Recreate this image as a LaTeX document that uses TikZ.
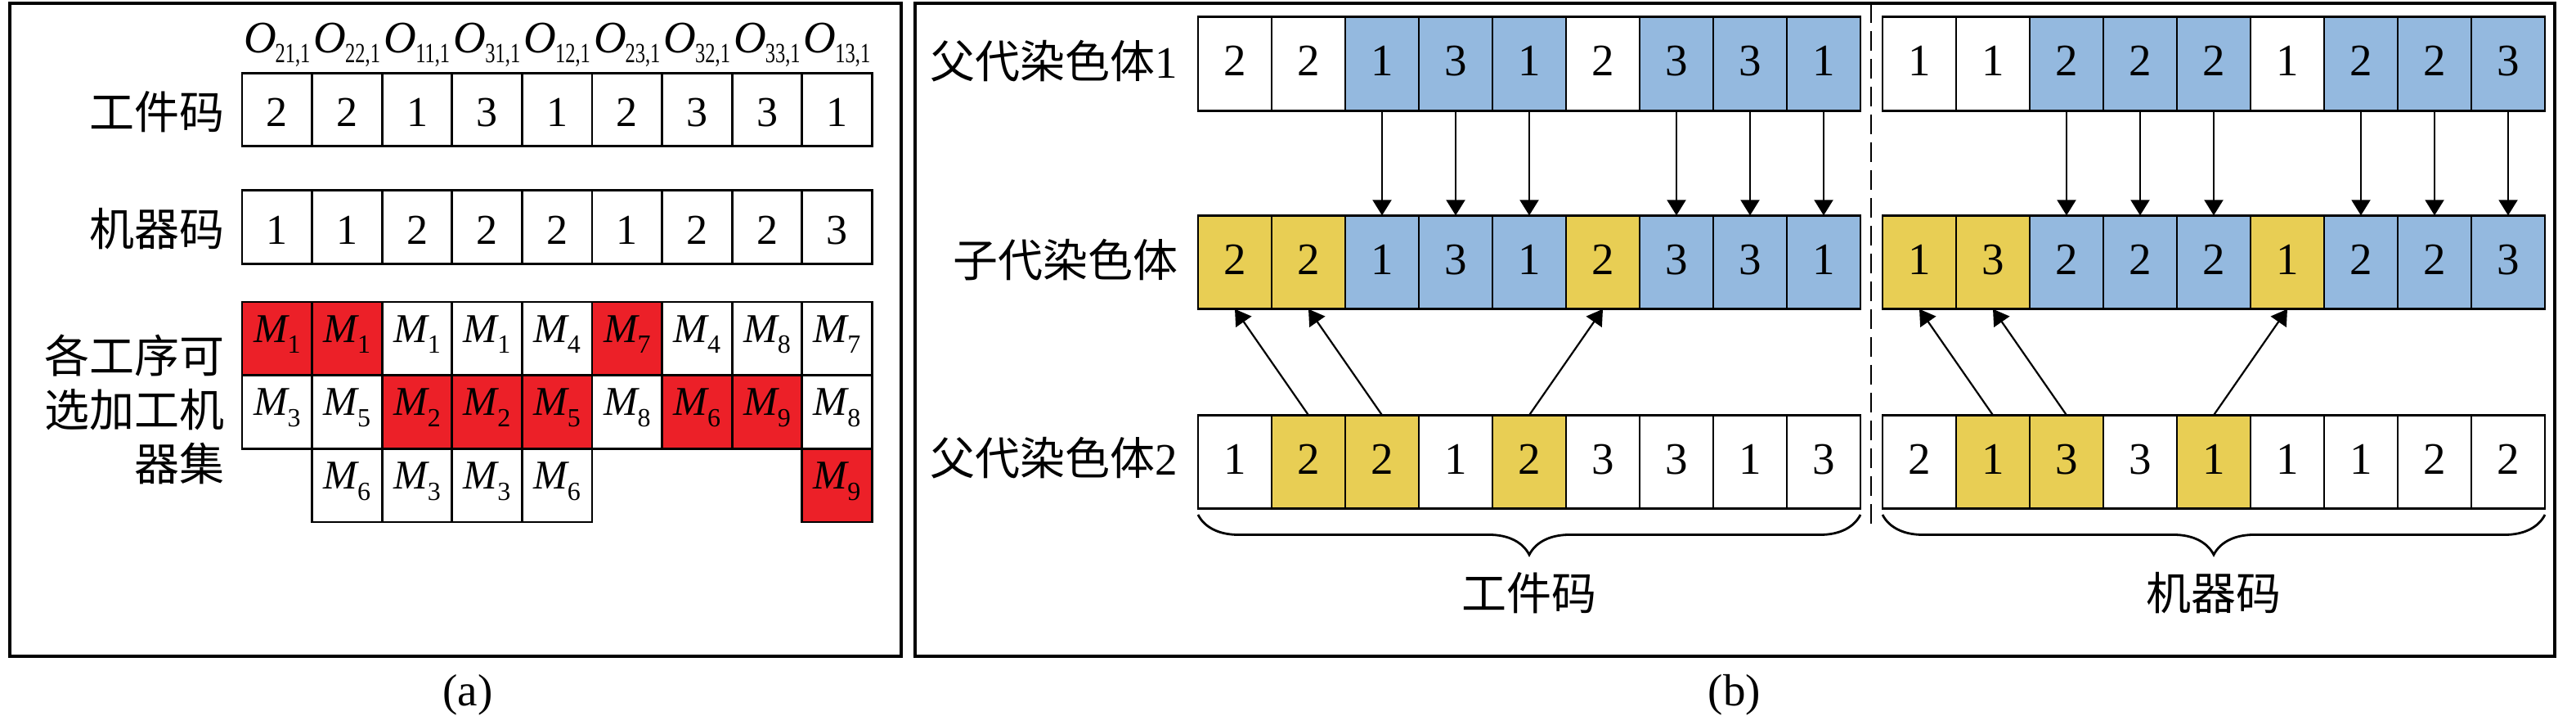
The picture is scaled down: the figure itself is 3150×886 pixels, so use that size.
\documentclass[tikz,border=0pt]{standalone}
\usepackage{fontspec}
\usepackage{graphicx}
\setmainfont{Liberation Serif}
\newfontfamily\cjk{Noto Sans CJK SC}
\usetikzlibrary{arrows.meta,decorations.pathreplacing}
\definecolor{cellred}{RGB}{236,32,40}
\definecolor{cellblue}{RGB}{148,185,223}
\definecolor{cellyel}{RGB}{232,206,84}
\newcommand\Mx[1]{\textit{M}\kern-0.6pt\raisebox{-3.4pt}{\fontsize{8}{8}\selectfont #1}}
\newcommand\Ox[1]{\textit{O}\kern-0.3pt\raisebox{-3pt}{\fontsize{8.5}{8.5}\selectfont\scalebox{0.72}[1]{#1}}}
\begin{document}
\begin{tikzpicture}[x=0.25pt,y=-0.25pt,
  txt/.style={font=\fontsize{13.75pt}{16.5pt}\selectfont, inner sep=0pt},
  acell/.style={draw, line width=0.7pt, minimum width=21.4pt, minimum height=22.4pt,
    inner sep=0pt, outer sep=0pt, font=\fontsize{13pt}{15pt}\selectfont},
  adig/.style={text height=10.5pt, text depth=0pt},
  mcell/.style={acell, text height=6pt, text depth=3.75pt, font=\fontsize{12.5pt}{15pt}\selectfont},
  bcell/.style={draw, line width=0.7pt, minimum width=22.5pt, minimum height=28.6pt,
    inner sep=0pt, outer sep=0pt, font=\fontsize{13.75pt}{15pt}\selectfont,
    text height=8pt, text depth=0.5pt},
  frame/.style={line width=0.8pt},
  arr/.style={line width=0.55pt, -{Triangle[length=4.75pt,width=5.75pt]}},
  sep/.style={line width=0.7pt, dash pattern=on 6pt off 2.5pt},
  brc/.style={line width=0.7pt, decorate, decoration={brace, mirror, amplitude=12.25pt}}
]
\useasboundingbox (0,0) rectangle (3150,886);
% frames
\draw[frame] (12,4) rectangle (1102,802);
\draw[frame] (1119,4) rectangle (3124,802);

% ---------- panel (a) ----------
\foreach \s [count=\i] in {{21,1},{22,1},{11,1},{31,1},{12,1},{23,1},{32,1},{33,1},{13,1}}
  \node[txt, anchor=base] (o\i) at ({296+85.6*(\i-0.5)},65) {\Ox{\s}};
\foreach \v [count=\i] in {2,2,1,3,1,2,3,3,1}
  \node[acell, adig] (j\i) at ({296+85.6*(\i-0.5)},134) {\v};
\foreach \v [count=\i] in {1,1,2,2,2,1,2,2,3}
  \node[acell, adig] (k\i) at ({296+85.6*(\i-0.5)},277.5) {\v};
\foreach \v/\f [count=\i] in {1/cellred,1/cellred,1/white,1/white,4/white,7/cellred,4/white,8/white,7/white}
  \node[mcell, fill=\f] (ma\i) at ({296+85.6*(\i-0.5)},413.8) {\Mx{\v}};
\foreach \v/\f [count=\i] in {3/white,5/white,2/cellred,2/cellred,5/cellred,8/white,6/cellred,9/cellred,8/white}
  \node[mcell, fill=\f] (mb\i) at ({296+85.6*(\i-0.5)},503.5) {\Mx{\v}};
\foreach \i/\v/\f in {2/6/white,3/3/white,4/3/white,5/6/white,9/9/cellred}
  \node[mcell, fill=\f] (mc\i) at ({296+85.6*(\i-0.5)},593.2) {\Mx{\v}};

\node[txt, anchor=east] (jlab) at (275,137) {\cjk 工件码};
\node[txt, anchor=east] (klab) at (275,280) {\cjk 机器码};
\node[txt, anchor=east, align=right] (mlab) at (275,500) {\cjk 各工序可\\\cjk 选加工机\\\cjk 器集};
\node[txt] (capa) at (572,849) {(a)};

% ---------- panel (b) ----------
\foreach \v/\f [count=\i] in {2/white,2/white,1/cellblue,3/cellblue,1/cellblue,2/white,3/cellblue,3/cellblue,1/cellblue}
  \node[bcell, fill=\f] (La\i) at ({1465+90*(\i-0.5)},78) {\v};
\foreach \v/\f [count=\i] in {2/cellyel,2/cellyel,1/cellblue,3/cellblue,1/cellblue,2/cellyel,3/cellblue,3/cellblue,1/cellblue}
  \node[bcell, fill=\f] (Lb\i) at ({1465+90*(\i-0.5)},320.5) {\v};
\foreach \v/\f [count=\i] in {1/white,2/cellyel,2/cellyel,1/white,2/cellyel,3/white,3/white,1/white,3/white}
  \node[bcell, fill=\f] (Lc\i) at ({1465+90*(\i-0.5)},564.5) {\v};
\foreach \v/\f [count=\i] in {1/white,1/white,2/cellblue,2/cellblue,2/cellblue,1/white,2/cellblue,2/cellblue,3/cellblue}
  \node[bcell, fill=\f] (Ra\i) at ({2302+90*(\i-0.5)},78) {\v};
\foreach \v/\f [count=\i] in {1/cellyel,3/cellyel,2/cellblue,2/cellblue,2/cellblue,1/cellyel,2/cellblue,2/cellblue,3/cellblue}
  \node[bcell, fill=\f] (Rb\i) at ({2302+90*(\i-0.5)},320.5) {\v};
\foreach \v/\f [count=\i] in {2/white,1/cellyel,3/cellyel,3/white,1/cellyel,1/white,1/white,2/white,2/white}
  \node[bcell, fill=\f] (Rc\i) at ({2302+90*(\i-0.5)},564.5) {\v};

\node[txt, anchor=east] (p1lab) at (1441,75) {{\cjk 父代染色体}1};
\node[txt, anchor=east] (chlab) at (1441,318) {\cjk 子代染色体};
\node[txt, anchor=east] (p2lab) at (1441,560) {{\cjk 父代染色体}2};

% arrows
\foreach \c in {3,4,5,7,8,9}{
  \draw[arr] (La\c.south) -- (Lb\c.north);
  \draw[arr] (Ra\c.south) -- (Rb\c.north);
}
\draw[arr] (Lc2.north) -- (Lb1.south);
\draw[arr] (Lc3.north) -- (Lb2.south);
\draw[arr] (Lc5.north) -- (Lb6.south);
\draw[arr] (Rc2.north) -- (Rb1.south);
\draw[arr] (Rc3.north) -- (Rb2.south);
\draw[arr] (Rc5.north) -- (Rb6.south);

% separator
\coordinate (sepT) at (2288,4);
\coordinate (sepB) at (2288,640);
\draw[sep] (sepT) -- (sepB);

% braces
\coordinate (bl1) at (1465,629);
\coordinate (bl2) at (2275,629);
\coordinate (br1) at (2302,629);
\coordinate (br2) at (3112,629);
\draw[brc] (bl1) -- (bl2);
\draw[brc] (br1) -- (br2);
\node[txt] (jcode) at (1870,725) {\cjk 工件码};
\node[txt] (mcode) at (2707,725) {\cjk 机器码};
\node[txt] (capb) at (2121,849) {(b)};
\end{tikzpicture}
\end{document}
